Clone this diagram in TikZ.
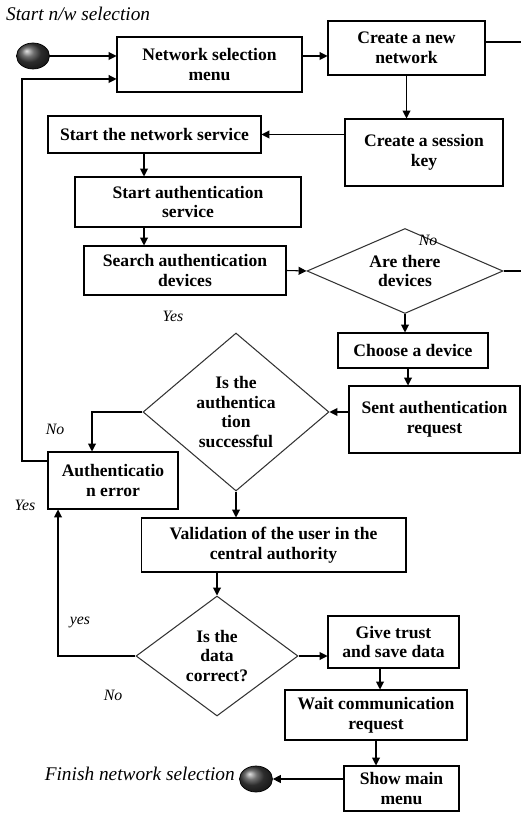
\documentclass[tikz,border=0pt]{standalone}
\usepackage{fontspec}
\setmainfont{Liberation Serif}
\usetikzlibrary{shapes.geometric, arrows.meta, positioning}

\begin{document}
\begin{tikzpicture}[
    x=0.02cm, y=-0.02cm, % satuan gambar dalam piksel
    % Mendefinisikan gaya untuk kotak proses
    box/.style={rectangle, draw=black, line width=0.6pt, align=center, inner sep=2pt, font=\fontsize{10}{11.2}\selectfont\bfseries},
    % Gaya untuk keputusan (belah ketupat)
    decision/.style={diamond, draw=black!80, line width=0.6pt, align=center, inner sep=0pt, font=\fontsize{10}{11.2}\selectfont\bfseries},
    terminal/.style={ellipse, draw=black, shading=ball, ball color=black!75, minimum width=0.66cm, minimum height=0.52cm, inner sep=0pt},
    lbl/.style={font=\fontsize{9}{11}\selectfont\itshape},
    % Mendefinisikan gaya untuk panah
    arrow/.style={-{Triangle[length=4.5pt, width=4.5pt]}, line width=0.6pt},
    line/.style={line width=0.6pt}
]
\useasboundingbox (0,0) rectangle (521,813);

% Node awal dan akhir
\node (start) [terminal] at (33,56) {};
\node (finish) [terminal] at (256,779) {};
\node (startlbl) [lbl, anchor=west, font=\fontsize{11}{13}\selectfont\itshape] at (0,14) {Start n/w selection};
\node (finishlbl) [lbl, anchor=east, font=\fontsize{11}{13}\selectfont\itshape] at (241,774) {Finish network selection};

% Menempatkan Nodes (Kotak-kotak)
\node (netsel) [box, minimum width=3.7cm, minimum height=1.1cm] at (209.5,64.5) {Network selection\\menu};
\node (create) [box, minimum width=3.14cm, minimum height=1.08cm] at (406.5,48) {Create a new\\network};
\node (session) [box, minimum width=3.16cm, minimum height=1.34cm] at (424,152.5) {Create a session\\key};
\node (netserv) [box, minimum width=4.26cm, minimum height=0.74cm] at (154.5,134.5) {Start the network service};
\node (authserv) [box, minimum width=4.52cm, minimum height=1cm] at (188,202) {Start authentication\\service};
\node (search) [box, minimum width=4.04cm, minimum height=0.98cm] at (185,270.5) {Search authentication\\devices};
\node (devices) [decision, aspect=2.3, minimum width=3.92cm, minimum height=1.7cm] at (405,271) {Are there\\devices};
\node (choose) [box, minimum width=3cm, minimum height=0.7cm] at (413,350.5) {Choose a device};
\node (sent) [box, minimum width=3.42cm, minimum height=1.34cm] at (434.5,419.5) {Sent authentication\\request};
\node (success) [decision, aspect=1.18, minimum width=3.72cm, minimum height=3.16cm] at (236,412) {Is the\\authentica\\tion\\successful};
\node (autherr) [box, minimum width=2.6cm, minimum height=1.14cm] at (113,480.5) {Authenticatio\\n error};
\node (valid) [box, minimum width=5.3cm, minimum height=1.08cm] at (273.5,545) {Validation of the user in the\\central authority};
\node (data) [decision, aspect=1.35, minimum width=3.24cm, minimum height=2.4cm] at (217,656) {Is the\\data\\correct?};
\node (trust) [box, minimum width=2.62cm, minimum height=1.04cm] at (393.5,642) {Give trust\\and save data};
\node (wait) [box, minimum width=3.64cm, minimum height=1cm] at (376,715) {Wait communication\\request};
\node (showmenu) [box, minimum width=2.3cm, minimum height=0.9cm] at (401.5,788.5) {Show main\\menu};

% Label cabang keputusan
\node (nodev) [lbl] at (428,240) {No};
\node (yesdev) [lbl] at (173,316) {Yes};
\node (noauth) [lbl] at (55,429) {No};
\node (yesauth) [lbl] at (25,505) {Yes};
\node (yesdata) [lbl] at (80,622) {yes};
\node (nodata) [lbl] at (113,695) {No};

% Titik bantu untuk garis balik dan ujung bebas
\coordinate (back) at (22,461);
\coordinate (exitnet) at (521,42);
\coordinate (exitdev) at (521,268);

% Menghubungkan Nodes dengan Panah
\draw [arrow] (start.east) -- (start.east -| netsel.west);
\draw [arrow] (autherr.west |- back) -- (back) |- ([yshift=-0.29cm]netsel.west);
\draw [arrow] ([yshift=0.17cm]netsel.east) -- ([yshift=0.17cm]netsel.east -| create.west);
\draw [line] (create.east |- exitnet) -- (exitnet);
\draw [arrow] (create.south) -- (create.south |- session.north);
\draw [arrow] (session.west |- netserv) -- (netserv.east);
\draw [arrow] ([xshift=-0.21cm]netserv.south) -- ([xshift=-0.21cm]netserv.south |- authserv.north);
\draw [arrow] ([xshift=-0.88cm]authserv.south) -- ([xshift=-0.88cm]authserv.south |- search.north);
\draw [arrow] (search.east) -- (devices.west);
\draw [line] (devices.east) -- (devices.east -| exitdev);
\draw [arrow] (devices.south) -- (devices.south |- choose.north);
\draw [arrow] ([xshift=-0.1cm]choose.south) -- ([xshift=-0.1cm]choose.south |- sent.north);

% Panah ke keputusan autentikasi
\draw [arrow] (sent.west |- success.east) -- (success.east);
\draw [arrow] (success.west) -| ([xshift=-0.42cm]autherr.north);
\draw [arrow] (success.south) -- (success.south |- valid.north);
\draw [arrow] (data.north |- valid.south) -- (data.north);
\draw [arrow] (data.west) -| ([xshift=-1.1cm]autherr.south);
\draw [arrow] (data.east) -- (data.east -| trust.west);

% Panah ke bagian akhir
\draw [arrow] ([xshift=-0.27cm]trust.south) -- ([xshift=-0.27cm]trust.south |- wait.north);
\draw [arrow] (wait.south) -- (wait.south |- showmenu.north);
\draw [arrow] (showmenu.west |- finish) -- (finish.east);

\end{tikzpicture}
\end{document}
